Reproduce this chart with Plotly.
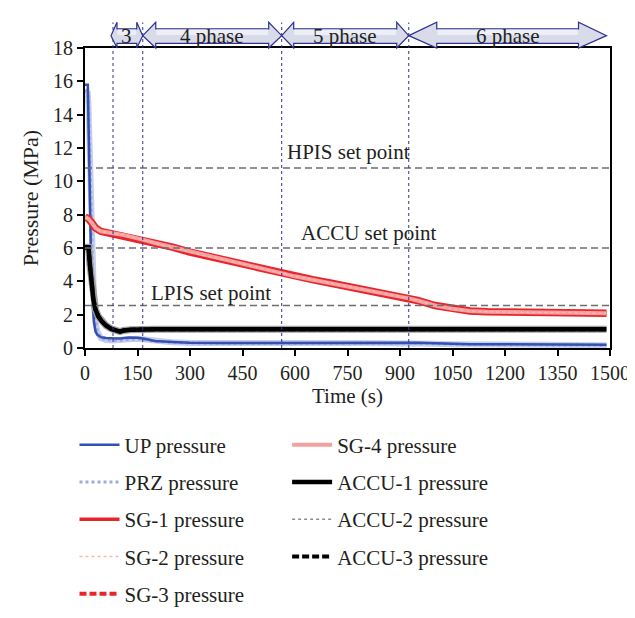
import plotly.graph_objects as go

# ---------------- data ----------------
t_primary = [0, 8, 10, 14, 18, 22, 26, 30, 35, 45, 60, 80, 100, 125, 150, 170, 200, 250, 300,
             400, 500, 600, 700, 800, 900, 950, 1000, 1050, 1100, 1200, 1300, 1400, 1490]
up_pressure = [15.8, 15.8, 13.5, 8.0, 4.5, 2.6, 1.5, 1.0, 0.8, 0.65, 0.6, 0.58, 0.57, 0.63, 0.62,
               0.55, 0.42, 0.36, 0.32, 0.3, 0.3, 0.31, 0.32, 0.32, 0.33, 0.32, 0.28, 0.25, 0.23,
               0.22, 0.21, 0.2, 0.19]
prz_pressure = [15.5, 15.3, 14.5, 11.0, 7.5, 4.5, 2.6, 1.6, 1.0, 0.6, 0.48, 0.45, 0.45, 0.52, 0.55,
                0.5, 0.4, 0.34, 0.3, 0.28, 0.28, 0.29, 0.3, 0.3, 0.31, 0.3, 0.26, 0.23, 0.21,
                0.2, 0.19, 0.18, 0.17]

t_sg = [0, 10, 20, 30, 45, 60, 80, 110, 140, 165, 200, 250, 300, 350, 400, 450, 500, 560, 600,
        650, 700, 750, 800, 850, 900, 925, 950, 1000, 1050, 1100, 1150, 1200, 1300, 1400, 1490]
sg_pressure = [7.85, 7.75, 7.5, 7.2, 7.0, 6.93, 6.88, 6.78, 6.65, 6.5, 6.3, 6.05, 5.75, 5.5, 5.3,
               5.05, 4.8, 4.48, 4.3, 4.1, 3.9, 3.7, 3.52, 3.33, 3.1, 2.98, 2.85, 2.55, 2.35,
               2.22, 2.17, 2.15, 2.12, 2.1, 2.08]

t_accu = [0, 10, 14, 19, 24, 30, 38, 48, 60, 75, 90, 100, 110, 130, 200, 400, 800, 1200, 1490]
accu_pressure = [6.05, 6.05, 5.0, 3.8, 2.9, 2.3, 1.9, 1.6, 1.35, 1.15, 1.02, 0.98, 1.05, 1.1,
                 1.12, 1.12, 1.12, 1.12, 1.12]

setpoint_names = ["HPIS set point", "ACCU set point", "LPIS set point"]
setpoint_values = [10.8, 6.0, 2.55]
setpoint_label_x = [752, 810, 360]
setpoint_label_y = [11.74, 6.89, 3.31]

phase_bounds = [80, 165, 562, 925, 1490]
phase_labels = ["3", "4 phase", "5 phase", "6 phase"]

x_ticks = list(range(0, 1501, 150))
y_ticks = list(range(0, 19, 2))
X_RANGE = [0, 1500]
Y_RANGE = [0, 18]

FONT = "Liberation Serif"
TXT = "#231f20"

fig = go.Figure()

def add(name, x, y, color, width, dash="solid", legend="legend", rank=1, showlegend=True):
    fig.add_trace(go.Scatter(x=x, y=y, mode="lines", name=name,
                             line=dict(color=color, width=width, dash=dash),
                             legend=legend, legendrank=rank, showlegend=showlegend,
                             legendgroup=name, hoverinfo="skip" if not showlegend else None))

# drawing order (bottom -> top); band outlines are the same series drawn wider, without legend
add("PRZ pressure", t_primary, prz_pressure, "rgba(150,165,220,0.55)", 6, "solid", "legend", 2, False)
add("PRZ pressure", t_primary, prz_pressure, "#9eaade", 3, "dot", "legend", 2)
add("UP pressure", t_primary, up_pressure, "#3550b0", 2.5, "solid", "legend", 1)
add("SG-4 pressure", t_sg, sg_pressure, "#e8262a", 7.5, "solid", "legend2", 6, False)
add("SG-1 pressure", t_sg, sg_pressure, "#e8262a", 3.5, "solid", "legend", 3)
add("SG-3 pressure", t_sg, sg_pressure, "#e8262a", 4, "7px,3px", "legend", 5)
add("SG-4 pressure", t_sg, sg_pressure, "#f3a0a0", 4, "solid", "legend2", 6)
add("SG-2 pressure", t_sg, sg_pressure, "#f7b5b5", 1.5, "dot", "legend", 4)
add("ACCU-2 pressure", t_accu, accu_pressure, "#a0a0a0", 7, "solid", "legend2", 8, False)
add("ACCU-2 pressure", t_accu, accu_pressure, "#8c8c8c", 1.5, "dot", "legend2", 8)
add("ACCU-1 pressure", t_accu, accu_pressure, "#000000", 4.5, "solid", "legend2", 7)
add("ACCU-3 pressure", t_accu, accu_pressure, "#000000", 4, "7px,3px", "legend2", 9)

shapes = []
# set point lines
for v in setpoint_values:
    shapes.append(dict(type="line", xref="paper", x0=0, x1=1, yref="y", y0=v, y1=v,
                       line=dict(color="#6d6e71", width=1.5, dash="7px,4px"), layer="above"))
# phase boundaries (dotted)
for b in phase_bounds[:-1]:
    shapes.append(dict(type="line", xref="x", x0=b, x1=b, yref="paper", y0=0, y1=1.085,
                       line=dict(color="#2e3192", width=1, dash="dot"), layer="above"))

# phase arrows (above the plot) in paper coords derived from the phase bounds
head_px = [6, 13, 12, 28]
plot_w = 525.0
plot_h = 320.5
def py(px_above):  # pixels above the plot top -> paper y
    return 1 + px_above / plot_h
ys_top, ys_bot = py(20.5), py(5)
yh_top, yh_bot = py(27.5), py(0)
ymid = py(13.2)
annotations = []
for i, lab in enumerate(phase_labels):
    x0 = (phase_bounds[i] - X_RANGE[0]) / (X_RANGE[1] - X_RANGE[0])
    x1 = (phase_bounds[i + 1] - X_RANGE[0]) / (X_RANGE[1] - X_RANGE[0])
    if i == 0:
        x0 -= 2 / plot_w
    h = head_px[i] / plot_w
    path = (f"M{x0},{ymid} L{x0+h},{yh_top} L{x0+h},{ys_top} L{x1-h},{ys_top} L{x1-h},{yh_top} "
            f"L{x1},{ymid} L{x1-h},{yh_bot} L{x1-h},{ys_bot} L{x0+h},{ys_bot} L{x0+h},{yh_bot} Z")
    shapes.append(dict(type="path", xref="paper", yref="paper", path=path,
                       fillcolor="#d9dbe9", line=dict(color="#2e3192", width=1.2)))
    # lighter upper half of the shaft to suggest the gradient fill
    shapes.append(dict(type="rect", xref="paper", yref="paper",
                       x0=x0 + h + 0.6 / plot_w, x1=x1 - h - 0.6 / plot_w,
                       y0=py(14), y1=ys_top - 0.8 / plot_h,
                       fillcolor="#eeeff6", line=dict(width=0)))
    annotations.append(dict(x=(x0 + x1) / 2, y=ymid, xref="paper", yref="paper", text=lab,
                            showarrow=False, font=dict(family=FONT, size=21, color=TXT),
                            xanchor="center", yanchor="middle"))

for name, lx, ly in zip(setpoint_names, setpoint_label_x, setpoint_label_y):
    annotations.append(dict(x=lx, y=ly, xref="x", yref="y", text=name, showarrow=False,
                            font=dict(family=FONT, size=21, color=TXT),
                            xanchor="center", yanchor="middle"))

axis_common = dict(showline=True, linecolor="black", linewidth=2, mirror=True,
                   ticks="outside", ticklen=6, tickwidth=2, tickcolor="black",
                   showgrid=False, zeroline=False,
                   tickfont=dict(family=FONT, size=20, color=TXT))

fig.update_layout(
    width=635, height=618,
    margin=dict(l=77, r=33, t=40, b=257.5, pad=0),
    paper_bgcolor="white", plot_bgcolor="white",
    font=dict(family=FONT, color=TXT),
    xaxis=dict(range=X_RANGE, tickvals=x_ticks,
               title=dict(text="Time (s)", font=dict(family=FONT, size=21, color=TXT), standoff=4),
               **axis_common),
    yaxis=dict(range=Y_RANGE, tickvals=y_ticks,
               title=dict(text="Pressure (MPa)", font=dict(family=FONT, size=22, color=TXT), standoff=8),
               **axis_common),
    shapes=shapes,
    annotations=annotations,
    legend=dict(x=-0.02, y=-0.255, xanchor="left", yanchor="top", orientation="v",
                font=dict(family=FONT, size=21, color=TXT), tracegroupgap=7,
                bgcolor="rgba(0,0,0,0)", itemwidth=40),
    legend2=dict(x=0.385, y=-0.255, xanchor="left", yanchor="top", orientation="v",
                 font=dict(family=FONT, size=21, color=TXT), tracegroupgap=7,
                 bgcolor="rgba(0,0,0,0)", itemwidth=40),
)

fig.write_html("out.html")
